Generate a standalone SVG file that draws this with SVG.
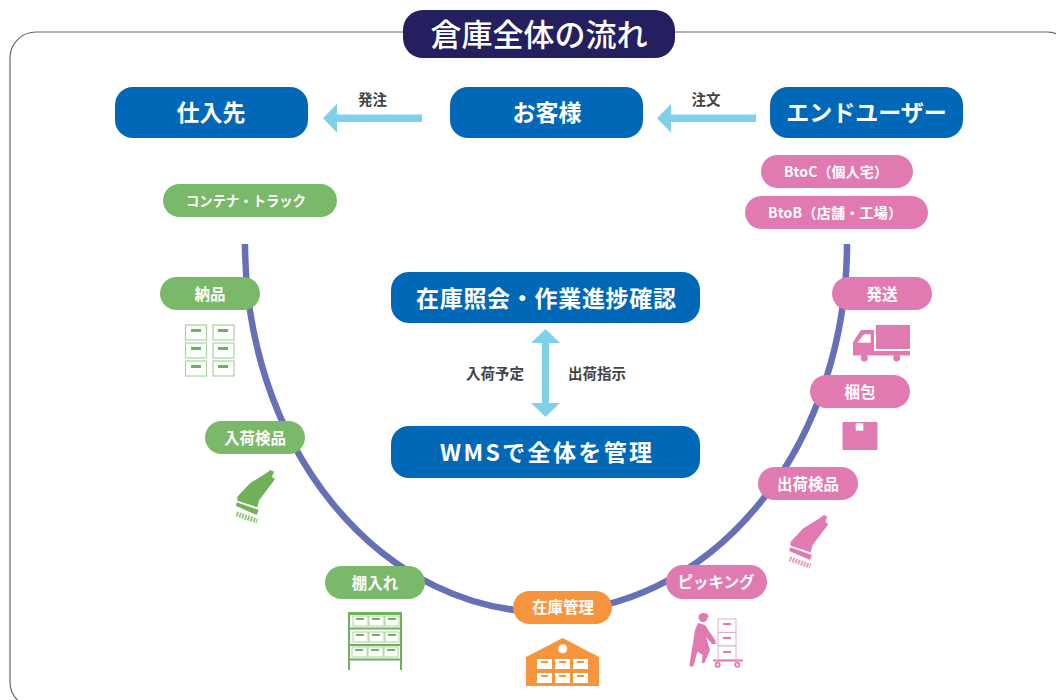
<svg xmlns="http://www.w3.org/2000/svg" xmlns:xlink="http://www.w3.org/1999/xlink" width="1056" height="700" viewBox="0 0 1056 700">
<style>
text{font-family:"Noto Sans CJK JP","Noto Sans",sans-serif;font-weight:700;text-anchor:middle;fill:#fff}
.big{font-size:23px}.pill{font-size:15.5px}.lab{font-size:14.500px;fill:#444}
.blue{fill:#0068b7}.green{fill:#7ab86a}.pink{fill:#e17ab0}.orange{fill:#f7953f}
.g{fill:#6fb25a}.p{fill:#e17ab0}.o{fill:#f7953f}
</style>
<defs>
<marker id="ah" markerUnits="userSpaceOnUse" markerWidth="14" markerHeight="29" refX="0" refY="14.500" orient="auto-start-reverse"><path d="M0 0L14 14.500L0 29Z" fill="#7fd1e8"/></marker>
<g id="scanner">
<path d="M270.700 470L274 471.700L272 476.700L275 479.300L259.300 500L257.300 507.300L237.300 500.700V496.700L250 483.300L265 474Z"/>
<path d="M236.700 502.300L258.700 510L256.700 515L236 506Z"/>
<path d="M236.300 513.800L257.300 521.200" fill="none" stroke="currentColor" stroke-width="5" stroke-dasharray="2 1" opacity=".75"/>
</g>
</defs>
<rect width="1056" height="700" fill="#fff"/>
<rect id="frame" x="10" y="32" width="1063" height="676" rx="26" fill="none" stroke="#666" stroke-width="1.2"/>
<g id="connectors" fill="none">
<path d="M245 244A301 368 0 0 0 847 244" stroke="#6570b5" stroke-width="6.500"/>
<path d="M422 118.300H337" stroke="#7fd1e8" stroke-width="7.500" marker-end="url(#ah)"/>
<path d="M756 118.300H671" stroke="#7fd1e8" stroke-width="7.500" marker-end="url(#ah)"/>
<path d="M545.500 343V403" stroke="#7fd1e8" stroke-width="7" marker-start="url(#ah)" marker-end="url(#ah)"/>
</g>
<g id="title"><rect x="403" y="10" width="272" height="48" rx="20" fill="#241f5e"/><text x="539" y="46" font-size="31" style="font-weight:500">倉庫全体の流れ</text></g>
<g id="n-supplier"><rect class="blue" x="115" y="87" width="193" height="51" rx="18"/><text class="big" x="211" y="120.500">仕入先</text></g>
<g id="n-customer"><rect class="blue" x="450" y="87" width="193" height="51" rx="18"/><text class="big" x="547" y="120.500">お客様</text></g>
<g id="n-enduser"><rect class="blue" x="770" y="87" width="193" height="51" rx="18"/><text class="big" x="866.500" y="120.500">エンドユーザー</text></g>
<text class="lab" x="372.500" y="105">発注</text>
<text class="lab" x="706" y="105">注文</text>
<g id="n-container"><rect class="green" x="163" y="184" width="174" height="33" rx="16.5"/><text class="pill" x="246" y="205.500" textLength="120" lengthAdjust="spacingAndGlyphs" style="font-size:14px">コンテナ・トラック</text></g>
<g id="n-btoc"><rect class="pink" x="761" y="155" width="152" height="33" rx="16.5"/><text class="pill" x="836" y="177" textLength="104" style="font-size:14px">BtoC（個人宅）</text></g>
<g id="n-btob"><rect class="pink" x="745" y="196" width="183" height="33" rx="16.5"/><text class="pill" x="835" y="217.500" textLength="134" style="font-size:14px">BtoB（店舗・工場）</text></g>
<g id="n-inquiry"><rect class="blue" x="391" y="272" width="309" height="51" rx="18"/><text class="big" x="546" y="306.500" textLength="260">在庫照会・作業進捗確認</text></g>
<g id="n-wms"><rect class="blue" x="391" y="426" width="309" height="52" rx="18"/><text class="big" x="546" y="460.500" textLength="212">WMSで全体を管理</text></g>
<text class="lab" x="495" y="379">入荷予定</text>
<text class="lab" x="597" y="379">出荷指示</text>
<g id="n-nohin"><rect class="green" x="160" y="277" width="100" height="33" rx="16.5"/><text class="pill" x="210" y="299.500">納品</text>
<g fill="#fff" stroke="#a9d39b" stroke-width="1.2"><rect x="185.500" y="325" width="21" height="15"/><rect x="213" y="325" width="21" height="15"/><rect x="185.500" y="343" width="21" height="15"/><rect x="213" y="343" width="21" height="15"/><rect x="185.500" y="361" width="21" height="15"/><rect x="213" y="361" width="21" height="15"/></g>
<g class="g"><rect x="191" y="329" width="10" height="3"/><rect x="218" y="329" width="10" height="3"/><rect x="191" y="347" width="10" height="3"/><rect x="218" y="347" width="10" height="3"/><rect x="191" y="365" width="10" height="3"/><rect x="218" y="365" width="10" height="3"/></g></g>
<g id="n-nyuka"><rect class="green" x="205" y="421" width="100" height="33" rx="16.5"/><text class="pill" x="255" y="443.500">入荷検品</text>
<use xlink:href="#scanner" href="#scanner" fill="#6fb25a" color="#6fb25a"/></g>
<g id="n-tana"><rect class="green" x="325" y="566" width="100" height="33" rx="16.500"/><text class="pill" x="375" y="588.500">棚入れ</text>
<g><path d="M349 670V613H401V670M349 614H401M349 628.500H401M349 645H401M349 659.500H401" fill="none" stroke="#6fb25a" stroke-width="2"/>
<g fill="#fff" stroke="#a9d39b"><rect x="353" y="616" width="15" height="10"/><rect x="369" y="616" width="15" height="10"/><rect x="385" y="616" width="14" height="10"/><rect x="353" y="632" width="15" height="10"/><rect x="369" y="632" width="15" height="10"/><rect x="385" y="632" width="14" height="10"/><rect x="352" y="647" width="15" height="10"/><rect x="368" y="647" width="15" height="10"/><rect x="384" y="647" width="14" height="10"/></g>
<g class="g"><rect x="356" y="618" width="8" height="2"/><rect x="372" y="618" width="8" height="2"/><rect x="388" y="618" width="8" height="2"/><rect x="356" y="634" width="8" height="2"/><rect x="372" y="634" width="8" height="2"/><rect x="388" y="634" width="8" height="2"/><rect x="355" y="649" width="8" height="2"/><rect x="371" y="649" width="8" height="2"/><rect x="387" y="649" width="8" height="2"/></g></g></g>
<g id="n-zaiko"><rect class="orange" x="513" y="591" width="99" height="33" rx="16.5"/><text class="pill" x="563" y="613">在庫管理</text>
<path class="o" d="M562.700 638L599 657V686H526V657Z"/><circle cx="562.700" cy="648.700" r="4.500" fill="#fff"/>
<g fill="#fff"><rect x="537" y="659" width="15" height="10"/><rect x="555" y="659" width="15" height="10"/><rect x="573" y="659" width="15" height="10"/><rect x="537" y="673" width="15" height="10"/><rect x="555" y="673" width="15" height="10"/><rect x="573" y="673" width="15" height="10"/></g>
<g class="o"><rect x="541" y="661" width="7" height="2"/><rect x="559" y="661" width="7" height="2"/><rect x="577" y="661" width="7" height="2"/><rect x="541" y="675" width="7" height="2"/><rect x="559" y="675" width="7" height="2"/><rect x="577" y="675" width="7" height="2"/></g></g>
<g id="n-picking"><rect class="pink" x="666" y="565" width="101" height="34" rx="17"/><text class="pill" x="716" y="588">ピッキング</text>
<g class="p"><circle cx="703" cy="617.500" r="4.500"/><path d="M703 613.500H707L709 617H703Z"/><path d="M698 623L705 625L715 640L716 644L712 644L706 637L710 650L704.300 663.300L701.700 662.700L702.700 655L697.300 651.700L693.300 666.700L689.300 666L695 630Z"/>
<path d="M713 659.500H743V661.500H713Z"/><circle cx="717.700" cy="664.700" r="3"/><circle cx="737.300" cy="664.700" r="3"/></g><circle cx="717.700" cy="664.700" r="1.200" fill="#fff"/><circle cx="737.300" cy="664.700" r="1.200" fill="#fff"/>
<g fill="#fff" stroke="#eba9cc"><rect x="718" y="619" width="18" height="13.500"/><rect x="718" y="632.500" width="18" height="13.500"/><rect x="718" y="646" width="18" height="13.500"/></g>
<g class="p"><rect x="723" y="623" width="8" height="2"/><rect x="723" y="637" width="8" height="2"/><rect x="723" y="651" width="8" height="2"/></g></g>
<g id="n-shukka"><rect class="pink" x="758" y="467" width="100" height="33" rx="16.5"/><text class="pill" x="808" y="489.500">出荷検品</text>
<use xlink:href="#scanner" href="#scanner" x="553.300" y="45" fill="#e17ab0" color="#e17ab0"/></g>
<g id="n-konpo"><rect class="pink" x="810" y="375" width="100" height="33" rx="16.5"/><text class="pill" x="860" y="397.500">梱包</text>
<rect class="p" x="842.500" y="422" width="35" height="28"/><rect x="855.700" y="423.300" width="7.600" height="7.400" fill="#fff"/></g>
<g id="n-hasso"><rect class="pink" x="832" y="277" width="100" height="33" rx="16.5"/><text class="pill" x="882" y="299.500">発送</text>
<g class="p"><rect x="876" y="325" width="34" height="24"/><path d="M874 330V351H910V355.500H853V342L861 330Z"/><circle cx="864.300" cy="358" r="3.500"/><circle cx="896.700" cy="358" r="3.500"/></g><path d="M857.300 342.700L864 334.300H870.700V342.700Z" fill="#fff"/></g>
</svg>
